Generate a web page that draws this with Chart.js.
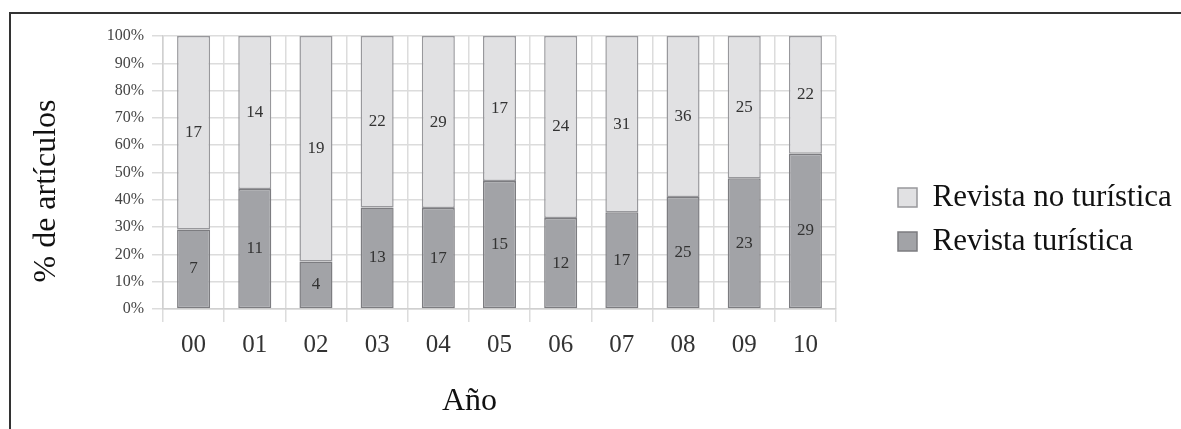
<!DOCTYPE html>
<html>
<head>
<meta charset="utf-8">
<script src="https://cdn.jsdelivr.net/npm/chart.js@4/dist/chart.umd.min.js"></script>
<style>
  html, body { margin: 0; padding: 0; background: #fff; }
  #wrap { position: relative; width: 1181px; height: 429px; }
</style>
</head>
<body>
<div id="wrap"><canvas id="chart" width="1181" height="429"></canvas></div>
<script>
// Año (two-digit labels) and number of articles per type of journal
const years = ['00', '01', '02', '03', '04', '05', '06', '07', '08', '09', '10'];
const turistica = [7, 11, 4, 13, 17, 15, 12, 17, 25, 23, 29];
const noTuristica = [17, 14, 19, 22, 29, 17, 24, 31, 36, 25, 22];
const yTicks = [0, 10, 20, 30, 40, 50, 60, 70, 80, 90, 100];

const SERIF = '"Liberation Serif", "DejaVu Serif", serif';

// share of each year (100% stacked)
const pct = (arr) => arr.map((v, i) => 100 * v / (turistica[i] + noTuristica[i]));

// frame, axis titles, counts inside the bars
const decorations = {
    id: 'decorations',
    beforeLayout(chart) {
        const legend = chart.legend;
        if (legend && !legend._patched) {
            const fit = legend.fit;
            legend.fit = function () {
                fit.call(this);
                if (this.isHorizontal && !this.isHorizontal()) this.width = 345;
            };
            legend._patched = true;
        }
    },
    afterLayout(chart) {
        const legend = chart.legend;
        const shiftX = chart.chartArea.right + 49 - legend.left;
        legend.left += shiftX;
        legend.right += shiftX;
        legend.top -= 13;
        legend.bottom -= 13;
    },
    beforeDraw(chart) {
        const ctx = chart.ctx;
        ctx.save();
        ctx.strokeStyle = '#333';
        ctx.lineWidth = 2;
        ctx.beginPath();
        ctx.moveTo(chart.width, 13);
        ctx.lineTo(10, 13);
        ctx.lineTo(10, chart.height);
        ctx.stroke();
        ctx.restore();
    },
    afterDatasetsDraw(chart) {
        const ctx = chart.ctx;
        ctx.save();
        ctx.font = '17px ' + SERIF;
        ctx.fillStyle = '#333';
        ctx.textAlign = 'center';
        ctx.textBaseline = 'middle';
        chart.data.datasets.forEach((ds, di) => {
            const meta = chart.getDatasetMeta(di);
            meta.data.forEach((bar, i) => {
                const y = (bar.y + bar.base) / 2;
                ctx.fillText(String(ds.counts[i]), bar.x, y);
            });
        });

        const area = chart.chartArea;
        ctx.fillStyle = '#111';
        ctx.font = '32px ' + SERIF;
        ctx.fillText('Año', (area.left + area.right) / 2 - 30, 402);

        ctx.translate(47, 191);
        ctx.rotate(-Math.PI / 2);
        ctx.fillText('% de artículos', 0, 0);
        ctx.restore();
    }
};

new Chart(document.getElementById('chart').getContext('2d'), {
    type: 'bar',
    data: {
        labels: years,
        datasets: [
            {
                label: 'Revista turística',
                data: pct(turistica),
                counts: turistica,
                backgroundColor: '#a2a3a7',
                borderColor: '#7c7c80',
                borderWidth: 1.5,
                borderSkipped: false,
                barPercentage: 0.54,
                categoryPercentage: 1
            },
            {
                label: 'Revista no turística',
                data: pct(noTuristica),
                counts: noTuristica,
                backgroundColor: '#e1e1e3',
                borderColor: '#98989c',
                borderWidth: 1.5,
                borderSkipped: false,
                barPercentage: 0.54,
                categoryPercentage: 1
            }
        ]
    },
    options: {
        responsive: false,
        animation: false,
        devicePixelRatio: 1,
        layout: {
            padding: { top: 36, left: 0, right: 0, bottom: 0 }
        },
        plugins: {
            legend: {
                position: 'right',
                reverse: true,
                labels: {
                    boxWidth: 19,
                    boxHeight: 19,
                    padding: 13,
                    color: '#111',
                    font: { family: SERIF, size: 31 }
                }
            },
            tooltip: { enabled: false }
        },
        scales: {
            x: {
                stacked: true,
                grid: {
                    color: '#dcdcdc',
                    lineWidth: 1.5,
                    tickLength: 13,
                    offset: true
                },
                border: { color: '#d0d0d0', width: 1.5 },
                ticks: {
                    color: '#333',
                    padding: 8,
                    font: { family: SERIF, size: 25 }
                },
                afterFit(scale) { scale.height = 120; }
            },
            y: {
                stacked: true,
                min: 0,
                max: 100,
                afterBuildTicks(scale) {
                    scale.ticks = yTicks.map(v => ({ value: v }));
                },
                grid: {
                    color: '#dcdcdc',
                    lineWidth: 1.5,
                    tickLength: 11
                },
                border: { color: '#d0d0d0', width: 1.5 },
                ticks: {
                    color: '#444',
                    padding: 8,
                    font: { family: SERIF, size: 16 },
                    callback: (v) => v + '%'
                },
                afterFit(scale) { scale.width = 163; }
            }
        }
    },
    plugins: [decorations]
});
</script>
</body>
</html>
